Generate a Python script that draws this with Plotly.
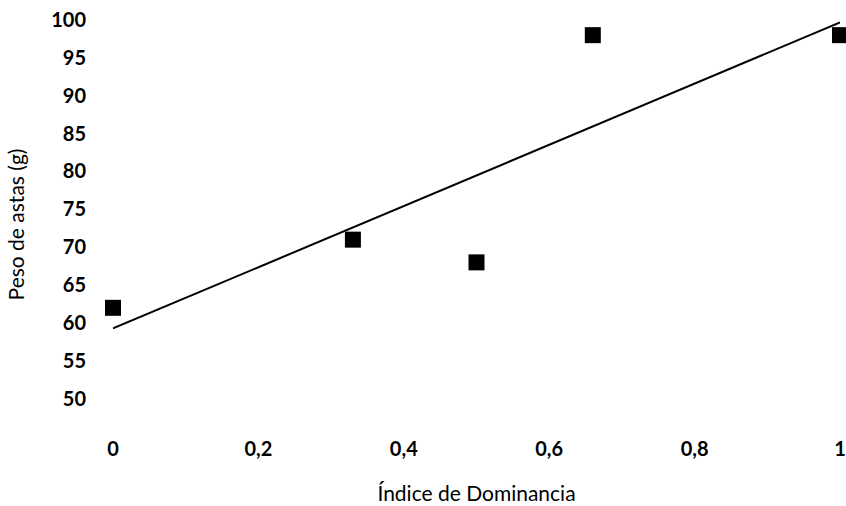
import numpy as np
import plotly.graph_objects as go

indice = [0, 0.33, 0.5, 0.66, 1]
peso = [62, 71, 68, 98, 98]
x_ticks = [0, 0.2, 0.4, 0.6, 0.8, 1]
x_tick_labels = ["0", "0,2", "0,4", "0,6", "0,8", "1"]
y_ticks = [50, 55, 60, 65, 70, 75, 80, 85, 90, 95, 100]

slope, intercept = np.polyfit(indice, peso, 1)
trend_x = [min(indice), max(indice)]
trend_y = [intercept + slope * v for v in trend_x]

fig = go.Figure()
fig.add_trace(go.Scatter(x=trend_x, y=trend_y, mode="lines",
                         line=dict(color="black", width=2), cliponaxis=False,
                         showlegend=False))
fig.add_trace(go.Scatter(x=indice, y=peso, mode="markers",
                         marker=dict(symbol="square", size=16, color="black"),
                         cliponaxis=False, showlegend=False))

tickfont = dict(family="Lato", size=20, color="black", weight="bold")
fig.update_layout(
    width=846, height=506,
    margin=dict(l=113, r=6, t=20, b=77),
    paper_bgcolor="white", plot_bgcolor="white",
    xaxis=dict(range=[0, 1], tickvals=x_ticks, ticktext=x_tick_labels,
               automargin=False, ticklabeloverflow="allow",
               showgrid=False, zeroline=False, showline=False,
               ticks="outside", ticklen=2, tickcolor="rgba(0,0,0,0)",
               tickfont=tickfont,
               title=dict(text="Índice de Dominancia", standoff=27,
                          font=dict(family="Lato", size=21, color="black"))),
    yaxis=dict(range=[46, 100], tickvals=y_ticks,
               automargin=False,
               showgrid=False, zeroline=False, showline=False,
               ticks="outside", ticklen=22, tickcolor="rgba(0,0,0,0)",
               tickfont=tickfont,
               title=dict(text="Peso de astas (g)", standoff=20,
                          font=dict(family="Lato", size=21, color="black"))),
)
fig.write_html("out.html", config={"displayModeBar": False},
               post_script="document.body.style.margin='0';"
                           "document.body.style.overflow='hidden';")
